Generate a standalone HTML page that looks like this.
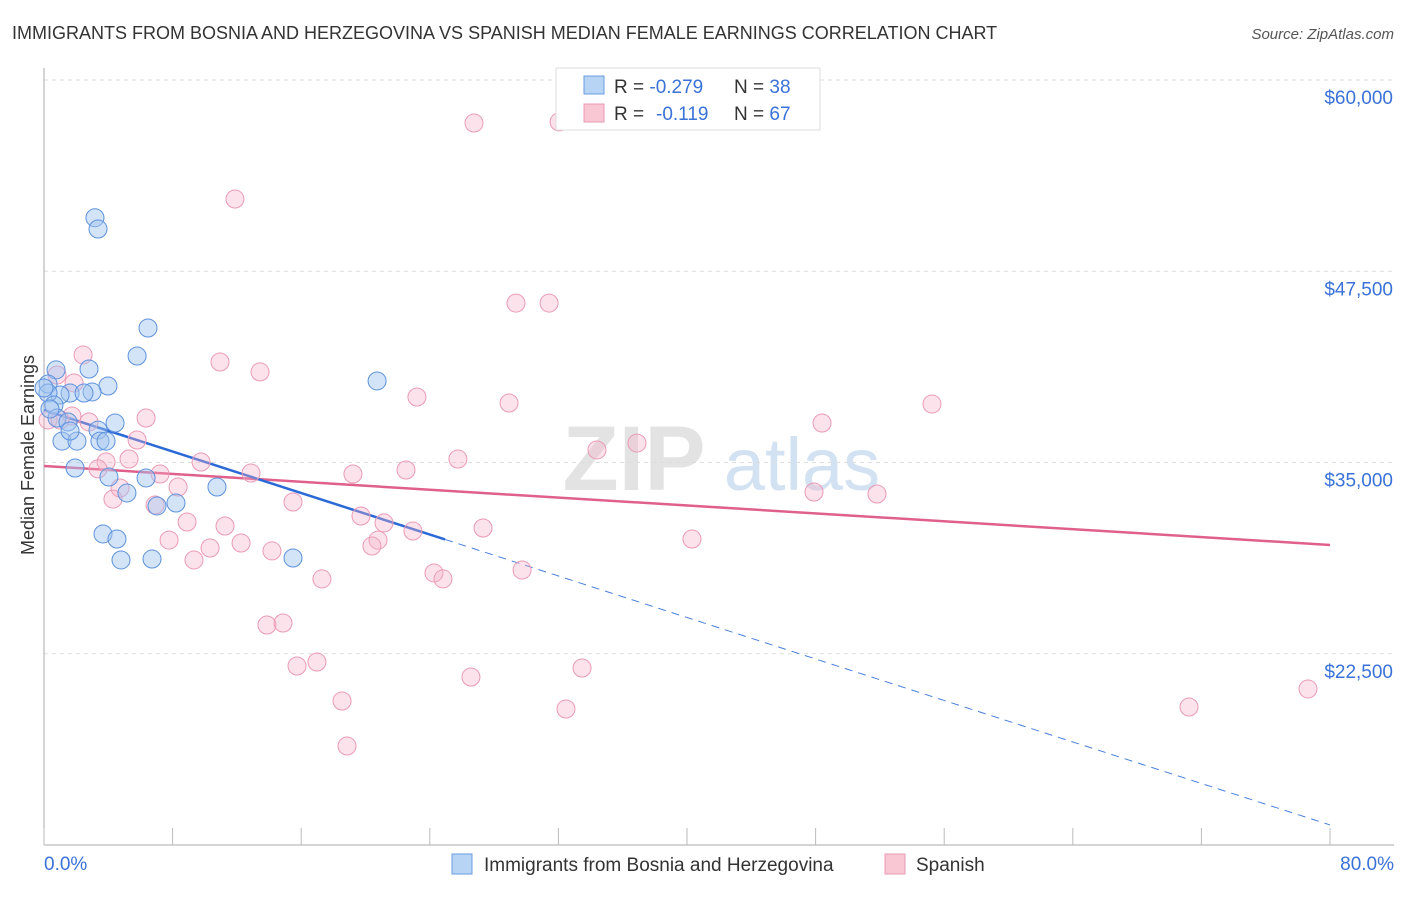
<!DOCTYPE html>
<html><head><meta charset="utf-8"><style>
body{margin:0;background:#fff;font-family:"Liberation Sans",sans-serif}
svg text{font-family:"Liberation Sans",sans-serif}
</style></head><body>
<svg id="chart" width="1406" height="892" viewBox="0 0 1406 892" xmlns="http://www.w3.org/2000/svg">
<text x="12" y="39" font-size="18" fill="#333">IMMIGRANTS FROM BOSNIA AND HERZEGOVINA VS SPANISH MEDIAN FEMALE EARNINGS CORRELATION CHART</text>
<text x="1394" y="39" font-size="15" fill="#555" text-anchor="end" font-style="italic">Source: ZipAtlas.com</text>
<g><text x="634" y="490" font-size="92" fill="#ddd" font-family="Liberation Serif" text-anchor="middle" font-weight="bold" opacity="0.8">ZIP</text><text x="802" y="490" font-size="74" fill="#c9dbef" text-anchor="middle" opacity="0.8">atlas</text></g>
<g id="grid"></g>
<g id="axes"></g>
<g id="trend"></g>
<g id="pts"></g>
<text transform="translate(34,455) rotate(-90)" font-size="18" fill="#333" text-anchor="middle">Median Female Earnings</text>
<g>
<rect x="556" y="68" width="264" height="62" fill="#fff" stroke="#ddd"/>
<rect x="584" y="76" width="20" height="18" fill="#b8d4f5" stroke="#6a9be0"/>
<rect x="584" y="104" width="20" height="18" fill="#f9c6d4" stroke="#e89ab4"/>
<text x="614" y="93" font-size="19" fill="#333">R = <tspan fill="#3a72d8">-0.279</tspan><tspan x="734">N = </tspan><tspan fill="#3a72d8">38</tspan></text>
<text x="614" y="120" font-size="19" fill="#333">R = <tspan x="656" fill="#3a72d8">-0.119</tspan><tspan x="734">N = </tspan><tspan fill="#3a72d8">67</tspan></text>
</g>
<g>
<rect x="452" y="854" width="20" height="20" fill="#b8d4f5" stroke="#6a9be0"/>
<text x="484" y="871" font-size="19" fill="#333">Immigrants from Bosnia and Herzegovina</text>
<rect x="885" y="854" width="20" height="20" fill="#f9c6d4" stroke="#e89ab4"/>
<text x="916" y="871" font-size="19" fill="#333">Spanish</text>
</g>
</svg>
<script>
const yTicks=[60000,47500,35000,22500];
const yTickLabels=["$60,000","$47,500","$35,000","$22,500"];
const xTickLabels=["0.0%","80.0%"];
const blueX=[3.17,3.36,6.47,5.79,2.80,0.75,0.25,3.98,2.99,1.62,2.49,1.00,0.25,0.62,0.81,4.42,1.49,3.36,1.12,2.05,3.48,3.86,1.93,4.04,6.35,5.16,7.03,8.21,10.76,20.72,3.67,4.54,4.79,6.72,15.49,1.62,0.37,0.0];
const blueY=[51000,50260,43790,41960,41110,41050,40130,40000,39610,39540,39540,39410,39540,38760,37910,37580,37650,37120,36400,36400,36400,36400,34640,34050,33990,33010,32160,32350,33400,40330,30330,30000,28630,28690,28760,37060,38500,39870];
const pinkX=[26.75,32.04,11.88,29.36,31.42,2.43,10.95,13.44,0.81,23.20,28.93,55.24,48.40,6.35,1.74,2.80,5.79,0.25,1.87,34.40,36.89,25.75,22.52,19.22,12.88,9.77,5.29,3.86,3.36,7.22,8.34,4.73,4.29,6.91,15.49,47.90,51.82,19.72,21.15,8.90,11.26,27.31,22.95,40.31,12.26,20.78,20.40,10.33,7.78,14.18,9.33,24.26,24.82,29.74,17.29,13.87,14.87,15.74,16.98,26.56,33.47,18.54,32.47,71.23,78.63,18.85,1.00];
const pinkY=[57190,57260,52220,45420,45420,42030,41570,40920,40720,39280,38890,38820,37580,37910,38040,37650,36470,37780,40200,35820,36270,35230,34510,34250,34310,35030,35230,35030,34580,34250,33400,33330,32610,32220,32420,33070,32940,31500,31050,31110,30850,30720,30520,30000,29740,29930,29540,29410,29930,29220,28630,27780,27390,27970,27390,24380,24510,21700,21960,20980,21570,19410,18890,19020,20200,16470,37780];
const blueTrend=[38430,11310,24.95];
const pinkTrend=[34770,29610];
const NS="http://www.w3.org/2000/svg";
const X0=44,X1=1330,Y0=80,Y1=845,VMIN=10000,VMAX=60000;
function xs(p){return X0+(X1-X0)*p/80;}
function ys(v){return Y0+(Y1-Y0)*(VMAX-v)/(VMAX-VMIN);}
function mk(tag,attrs,parent){const e=document.createElementNS(NS,tag);for(const k in attrs)e.setAttribute(k,attrs[k]);parent.appendChild(e);return e;}
const grid=document.getElementById('grid'),axes=document.getElementById('axes'),trend=document.getElementById('trend'),pts=document.getElementById('pts');
yTicks.forEach((v,i)=>{
 const l=mk('line',{x1:X0,x2:1394,y1:ys(v),y2:ys(v),stroke:'#ddd','stroke-dasharray':'4,4'},grid);
 
 
 const t=mk('text',{x:1393,y:ys(v)+24,'font-size':19,fill:'#3a72d8','text-anchor':'end'},axes);
 t.textContent=yTickLabels[i];
 
 
});
const ya=mk('line',{x1:X0,x2:X0,y1:68,y2:Y1,stroke:'#aaa'},axes);


const xa=mk('line',{x1:X0,x2:1394,y1:Y1,y2:Y1,stroke:'#aaa'},axes);


for(let i=0;i<=10;i++){
 const tk=mk('line',{x1:xs(i*8),x2:xs(i*8),y1:828,y2:Y1,stroke:'#bbb'},axes);
 
 
}
const xl0=mk('text',{x:44,y:870,'font-size':19,fill:'#3a72d8'},axes);xl0.textContent=xTickLabels[0];


const xl1=mk('text',{x:1394,y:870,'font-size':19,fill:'#3a72d8','text-anchor':'end'},axes);xl1.textContent=xTickLabels[1];


pinkX.forEach((x,i)=>{
 const c=mk('circle',{cx:xs(x),cy:ys(pinkY[i]),r:9,fill:'rgba(246,176,198,0.35)',stroke:'#eb9ab6','stroke-width':1},pts);
 
 
});
blueX.forEach((x,i)=>{
 const c=mk('circle',{cx:xs(x),cy:ys(blueY[i]),r:9,fill:'rgba(160,196,240,0.45)',stroke:'#5d92dd','stroke-width':1},pts);
 
 
});
function tv(t,p){return t[0]+(t[1]-t[0])*p/80;}
const pl=mk('line',{x1:xs(0),y1:ys(tv(pinkTrend,0)),x2:xs(80),y2:ys(tv(pinkTrend,80)),stroke:'#e0608c','stroke-width':2.5},trend);


const bs=mk('line',{x1:xs(0),y1:ys(tv(blueTrend,0)),x2:xs(blueTrend[2]),y2:ys(tv(blueTrend,blueTrend[2])),stroke:'#2b6ad6','stroke-width':2.5},trend);


const bd=mk('line',{x1:xs(blueTrend[2]),y1:ys(tv(blueTrend,blueTrend[2])),x2:xs(80),y2:ys(tv(blueTrend,80)),stroke:'#4a80dc','stroke-width':1,'stroke-dasharray':'8,6'},trend);


</script>
</body></html>
